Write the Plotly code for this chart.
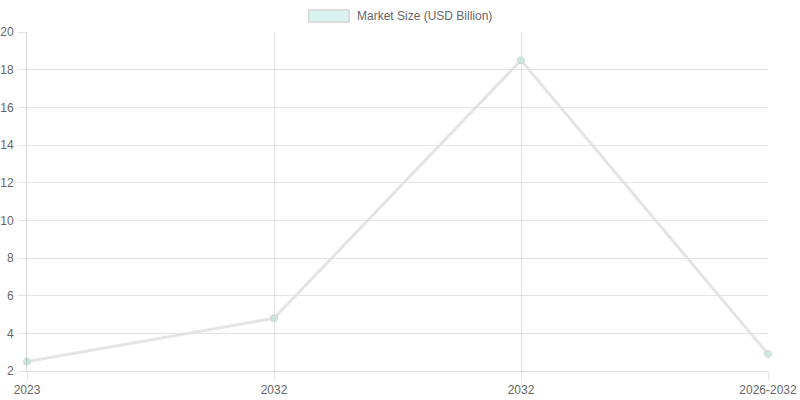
import plotly.graph_objects as go

categories = ["2023", "2032", "2032", "2026-2032"]
values = [2.5, 4.8, 18.5, 2.9]
series_name = "Market Size (USD Billion)"
y_ticks = [2, 4, 6, 8, 10, 12, 14, 16, 18, 20]

x_pos = list(range(len(categories)))

fig = go.Figure()
fig.add_trace(go.Scatter(
    x=x_pos, y=values, mode="lines+markers", name=series_name,
    line=dict(color="rgba(225,225,225,0.9)", width=3),
    marker=dict(size=7, color="rgba(195,228,220,0.8)",
                line=dict(color="rgba(205,212,210,0.9)", width=1)),
    showlegend=False, cliponaxis=False,
    hovertemplate="%{text}: %{y}<extra></extra>", text=categories,
))

# target plot area in page px: x 27..768, y 32..371
W, H = 800, 400
L, T = 27, 32
R = W - 768
B = H - 371
pw, ph = W - L - R, H - T - B

def px(x):
    return (x - L) / pw

def py(y):
    return (H - B - y) / ph

fig.add_shape(type="rect", xref="paper", yref="paper",
              x0=px(309), x1=px(349), y0=py(22), y1=py(10),
              fillcolor="#d9f3ee", line=dict(color="#dddddd", width=2))
fig.add_annotation(xref="paper", yref="paper", x=px(355), y=py(16),
                   xanchor="left", yanchor="middle", showarrow=False,
                   text=series_name, font=dict(size=12, color="#666666"))

fig.update_layout(
    width=W, height=H,
    margin=dict(l=L, r=R, t=T, b=B, autoexpand=False),
    paper_bgcolor="white", plot_bgcolor="white",
    font=dict(family="Liberation Sans, Arial, sans-serif", size=12, color="#666666"),
    xaxis=dict(range=[0, 3], tickmode="array", tickvals=x_pos, ticktext=categories,
               showgrid=True, gridcolor="rgba(0,0,0,0.1)", gridwidth=1,
               zeroline=False, showline=True, linecolor="rgba(0,0,0,0.15)",
               ticks="outside", ticklen=8, tickcolor="rgba(0,0,0,0.1)",
               automargin=False, fixedrange=True),
    yaxis=dict(range=[2, 20], tickmode="array", tickvals=y_ticks,
               showgrid=True, gridcolor="rgba(0,0,0,0.1)", gridwidth=1,
               zeroline=False, showline=True, linecolor="rgba(0,0,0,0.15)",
               ticks="outside", ticklen=8, tickcolor="rgba(0,0,0,0.1)",
               ticklabelstandoff=2, automargin=False, fixedrange=True),
    showlegend=False,
)

fig.write_html(
    "out.html",
    config={"displayModeBar": False},
    post_script="document.body.style.margin='0';document.body.style.overflow='hidden';",
)
